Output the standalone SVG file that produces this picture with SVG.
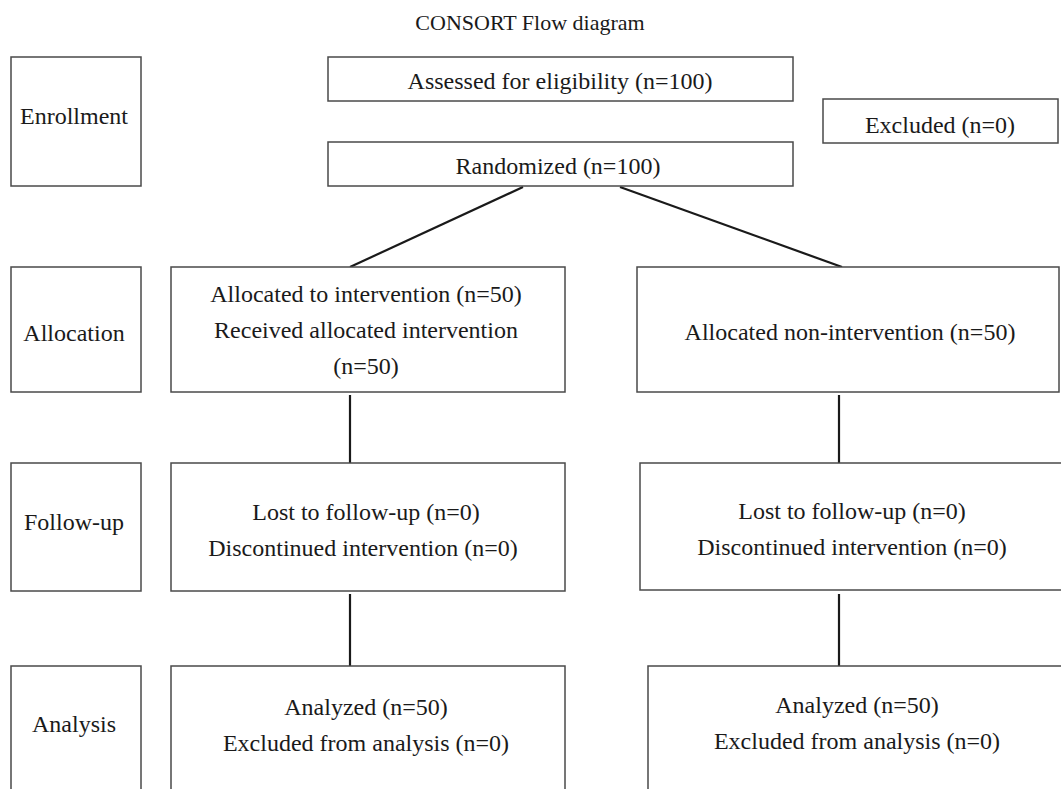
<svg xmlns="http://www.w3.org/2000/svg" width="1061" height="789" viewBox="0 0 1061 789">
<style>
  .box { fill: #ffffff; stroke: #4a4a4a; stroke-width: 1.5; }
  .t { font-family: "Liberation Serif", "Times New Roman", serif; font-size: 24px; fill: #1a1a1a; text-anchor: middle; }
  .title { font-family: "Liberation Serif", "Times New Roman", serif; font-size: 22px; fill: #1a1a1a; text-anchor: middle; }
  .conn { stroke: #1a1a1a; stroke-width: 2.2; fill: none; }
</style>
<rect x="0" y="0" width="1061" height="789" fill="#ffffff"/>
<text class="title" x="530" y="30">CONSORT Flow diagram</text>

<g id="connectors">
  <line class="conn" x1="523" y1="187" x2="350" y2="267"/>
  <line class="conn" x1="620" y1="187" x2="842" y2="267"/>
  <line class="conn" x1="350" y1="395" x2="350" y2="463"/>
  <line class="conn" x1="839" y1="395" x2="839" y2="463"/>
  <line class="conn" x1="350" y1="594" x2="350" y2="666"/>
  <line class="conn" x1="839" y1="594" x2="839" y2="666"/>
</g>

<g id="label-enrollment">
  <rect class="box" x="11" y="57" width="130" height="129"/>
  <text class="t" x="74" y="124">Enrollment</text>
</g>
<g id="label-allocation">
  <rect class="box" x="11" y="267" width="130" height="125"/>
  <text class="t" x="74" y="341">Allocation</text>
</g>
<g id="label-followup">
  <rect class="box" x="11" y="463" width="130" height="128"/>
  <text class="t" x="74" y="530">Follow-up</text>
</g>
<g id="label-analysis">
  <rect class="box" x="11" y="666" width="130" height="140"/>
  <text class="t" x="74" y="732">Analysis</text>
</g>

<g id="assessed">
  <rect class="box" x="328" y="57" width="465" height="44"/>
  <text class="t" x="560" y="89">Assessed for eligibility (n=100)</text>
</g>
<g id="excluded">
  <rect class="box" x="823" y="99" width="235" height="44"/>
  <text class="t" x="940" y="133">Excluded (n=0)</text>
</g>
<g id="randomized">
  <rect class="box" x="328" y="142" width="465" height="44"/>
  <text class="t" x="558" y="174">Randomized (n=100)</text>
</g>

<g id="alloc-intervention">
  <rect class="box" x="171" y="267" width="394" height="125"/>
  <text class="t" x="366" y="302">Allocated to intervention (n=50)</text>
  <text class="t" x="366" y="338">Received allocated intervention</text>
  <text class="t" x="366" y="374">(n=50)</text>
</g>
<g id="alloc-non-intervention">
  <rect class="box" x="637" y="267" width="422" height="125"/>
  <text class="t" x="850" y="340">Allocated non-intervention (n=50)</text>
</g>

<g id="followup-left">
  <rect class="box" x="171" y="463" width="394" height="128"/>
  <text class="t" x="366" y="520">Lost to follow-up (n=0)</text>
  <text class="t" x="363" y="556">Discontinued intervention (n=0)</text>
</g>
<g id="followup-right">
  <rect class="box" x="640" y="463" width="424" height="127"/>
  <text class="t" x="852" y="519">Lost to follow-up (n=0)</text>
  <text class="t" x="852" y="555">Discontinued intervention (n=0)</text>
</g>

<g id="analysis-left">
  <rect class="box" x="171" y="666" width="394" height="140"/>
  <text class="t" x="366" y="715">Analyzed (n=50)</text>
  <text class="t" x="366" y="751">Excluded from analysis (n=0)</text>
</g>
<g id="analysis-right">
  <rect class="box" x="648" y="666" width="418" height="140"/>
  <text class="t" x="857" y="713">Analyzed (n=50)</text>
  <text class="t" x="857" y="749">Excluded from analysis (n=0)</text>
</g>
</svg>
